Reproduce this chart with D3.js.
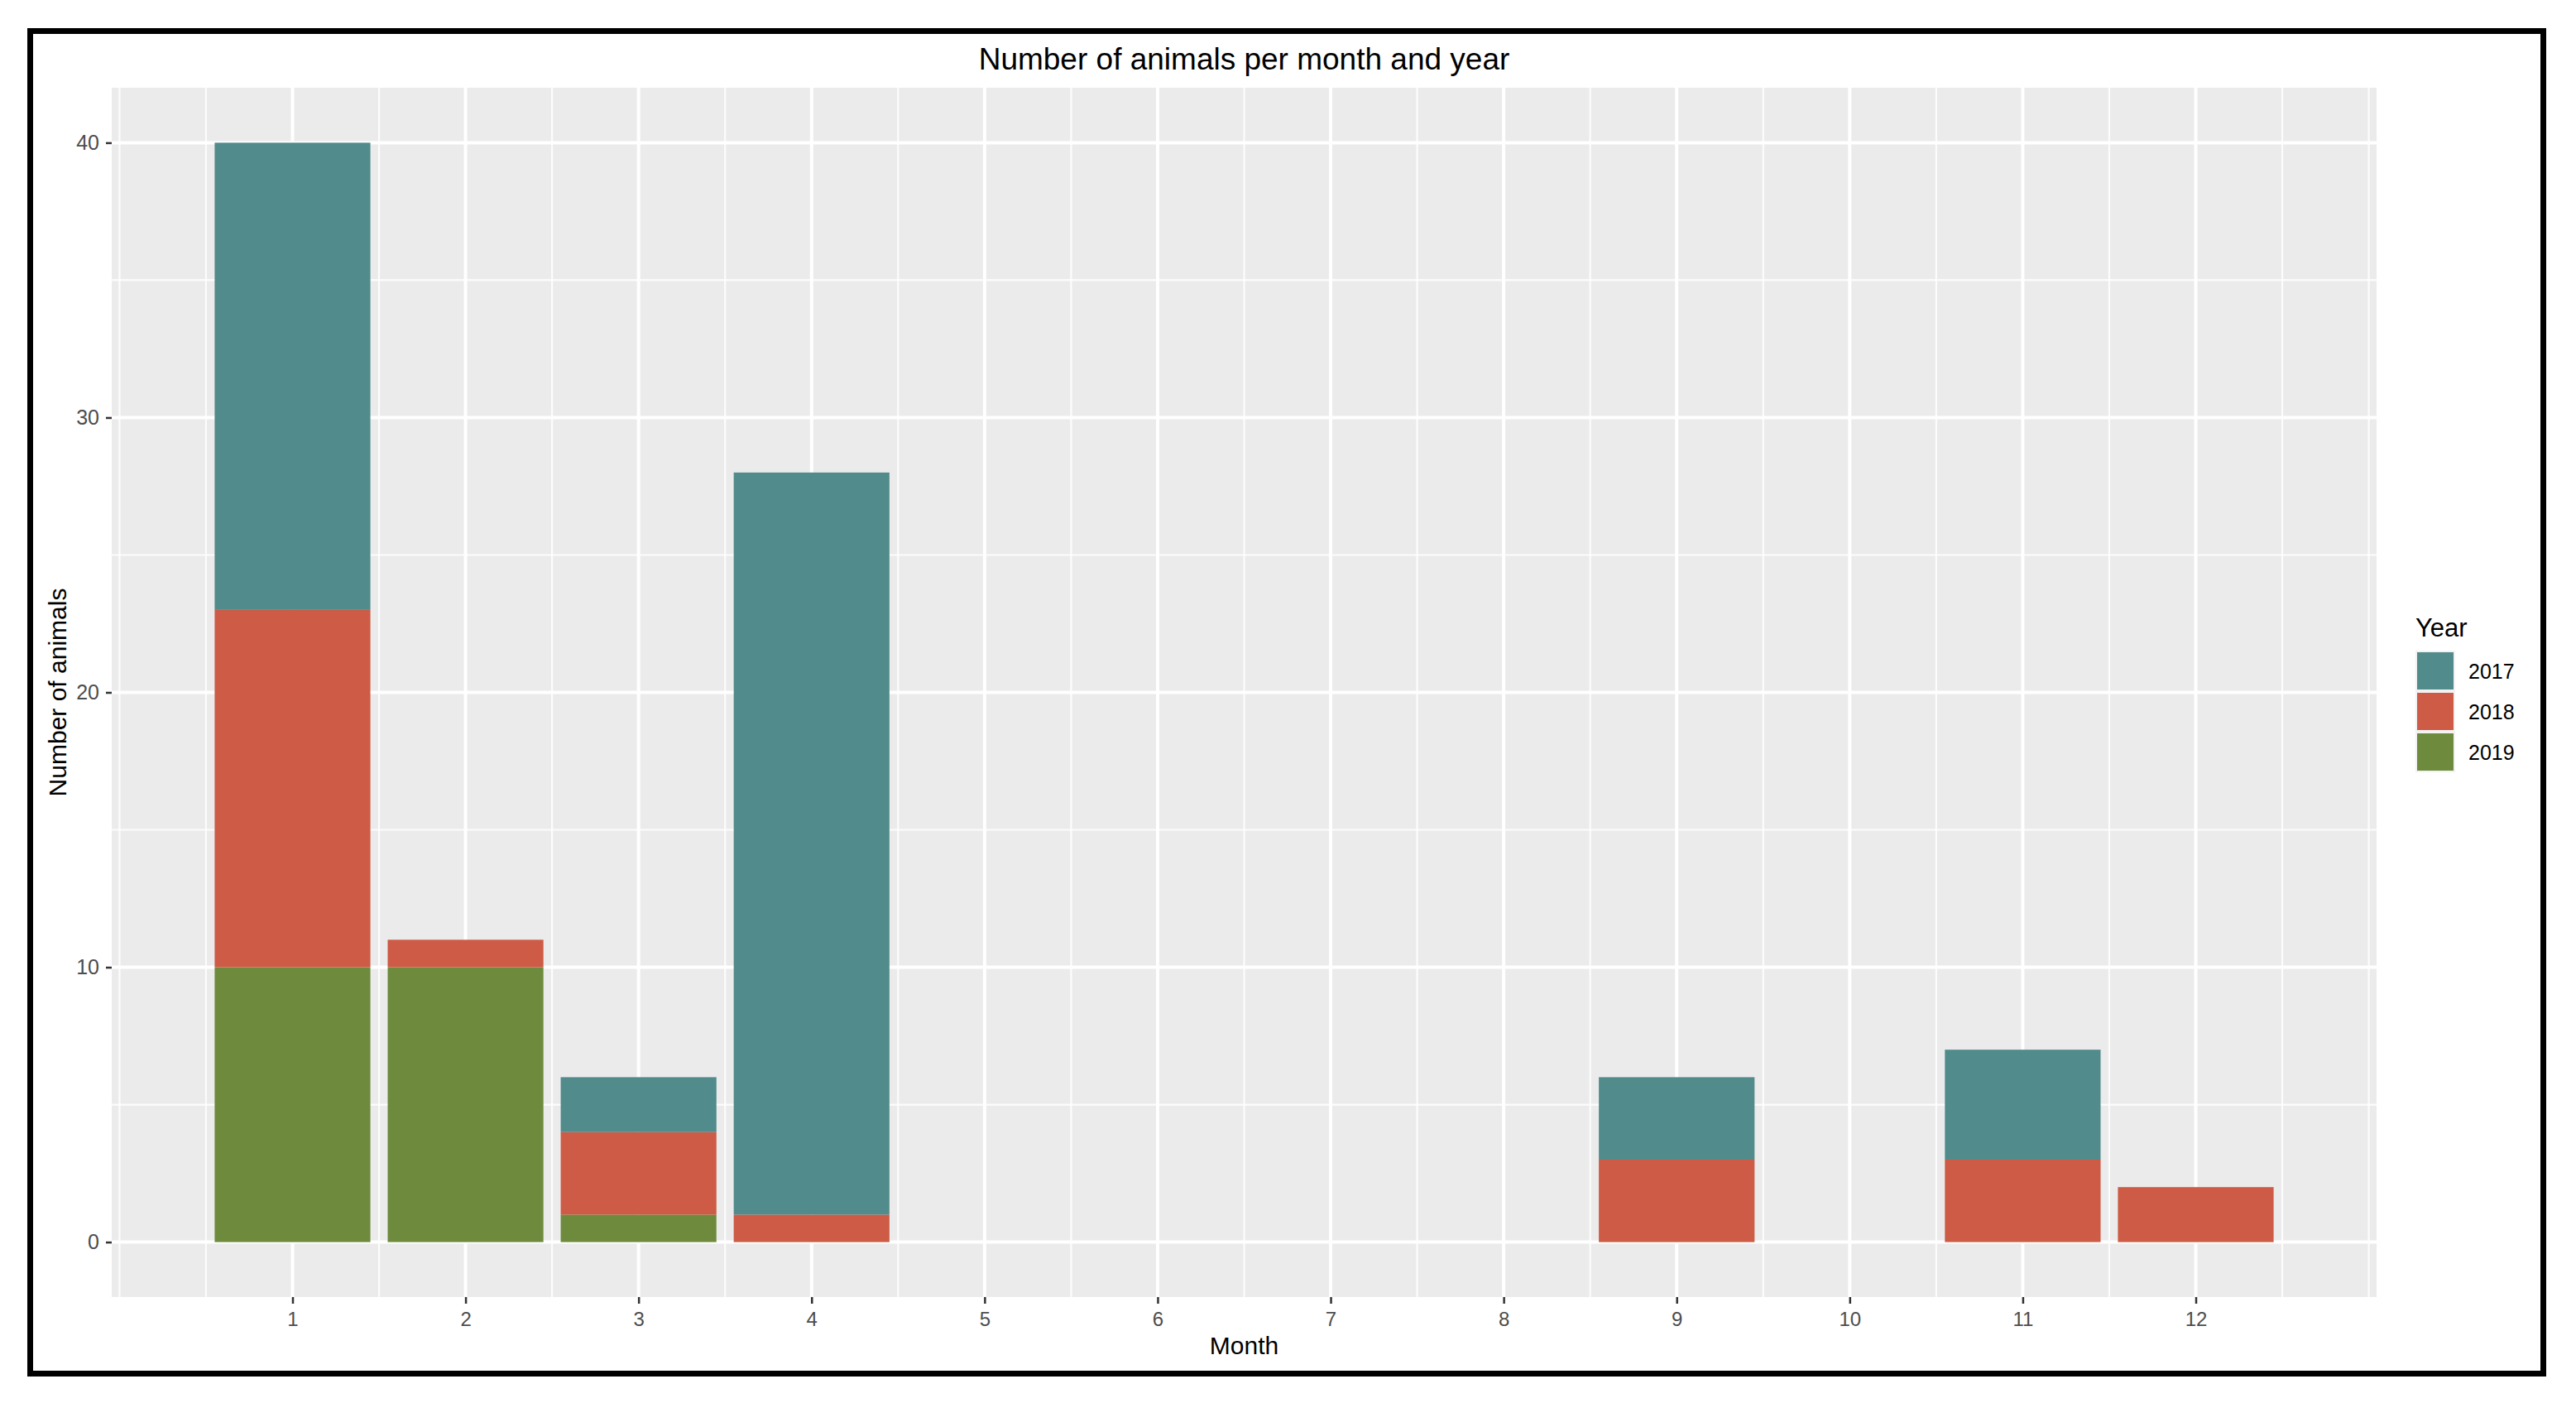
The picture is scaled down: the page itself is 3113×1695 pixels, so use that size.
<!DOCTYPE html>
<html>
<head>
<meta charset="utf-8">
<script src="https://cdn.jsdelivr.net/npm/d3@7"></script>
<style>
  html, body { margin: 0; padding: 0; background: #ffffff; }
  svg { display: block; }
  text { font-family: "Liberation Sans", Arial, sans-serif; }
</style>
</head>
<body>
<svg id="chart" width="3113" height="1695"></svg>
<script>
// ---- Data ----
const months = [1, 2, 3, 4, 5, 6, 7, 8, 9, 10, 11, 12];
const years = ["2017", "2018", "2019"];
const v2017 = [17, 0, 2, 27, 0, 0, 0, 0, 3, 0, 4, 0];
const v2018 = [13, 1, 3, 1, 0, 0, 0, 0, 3, 0, 3, 2];
const v2019 = [10, 10, 1, 0, 0, 0, 0, 0, 0, 0, 0, 0];
const yTicks = [0, 10, 20, 30, 40];
const yMinor = [5, 15, 25, 35];
const xMinor = [0, 0.5, 1.5, 2.5, 3.5, 4.5, 5.5, 6.5, 7.5, 8.5, 9.5, 10.5, 11.5, 12.5, 13];
const colors = { "2017": "#528B8B", "2018": "#CD5B45", "2019": "#6E8B3D" };
const titleText = "Number of animals per month and year";
const xTitle = "Month";
const yTitle = "Number of animals";
const legendTitle = "Year";

const rows = months.map((m, i) => ({ month: m, "2017": v2017[i], "2018": v2018[i], "2019": v2019[i] }));

// ---- Layout ----
const svg = d3.select("#chart");
const panel = { left: 135, right: 2872, top: 106, bottom: 1567 };

const x = d3.scaleLinear().domain([-0.045, 13.045]).range([panel.left, panel.right]);
const y = d3.scaleLinear().domain([-2, 42]).range([panel.bottom, panel.top]);
const barWidth = 0.9;

// outer frame
svg.append("rect")
  .attr("x", 36.5).attr("y", 37.5)
  .attr("width", 3037).attr("height", 1622)
  .attr("fill", "#ffffff").attr("stroke", "#000000").attr("stroke-width", 7);

// panel background
svg.append("rect")
  .attr("x", panel.left).attr("y", panel.top)
  .attr("width", panel.right - panel.left).attr("height", panel.bottom - panel.top)
  .attr("fill", "#EBEBEB");

const grid = svg.append("g");
// minor grid
grid.selectAll(".xminor").data(xMinor).join("line")
  .attr("x1", d => x(d)).attr("x2", d => x(d))
  .attr("y1", panel.top).attr("y2", panel.bottom)
  .attr("stroke", "#ffffff").attr("stroke-width", 2.2).attr("stroke-opacity", 0.85);
grid.selectAll(".yminor").data(yMinor).join("line")
  .attr("y1", d => y(d)).attr("y2", d => y(d))
  .attr("x1", panel.left).attr("x2", panel.right)
  .attr("stroke", "#ffffff").attr("stroke-width", 2.2).attr("stroke-opacity", 0.85);
// major grid
grid.selectAll(".xmajor").data(months).join("line")
  .attr("x1", d => x(d)).attr("x2", d => x(d))
  .attr("y1", panel.top).attr("y2", panel.bottom)
  .attr("stroke", "#ffffff").attr("stroke-width", 4);
grid.selectAll(".ymajor").data(yTicks).join("line")
  .attr("y1", d => y(d)).attr("y2", d => y(d))
  .attr("x1", panel.left).attr("x2", panel.right)
  .attr("stroke", "#ffffff").attr("stroke-width", 4);

// ---- Stacked bars ----
const stackKeys = ["2019", "2018", "2017"]; // bottom to top
const series = d3.stack().keys(stackKeys)(rows);
svg.append("g").selectAll("g").data(series).join("g")
  .attr("fill", s => colors[s.key])
  .selectAll("rect").data(s => s.filter(d => d[1] - d[0] > 0)).join("rect")
  .attr("x", d => x(d.data.month - barWidth / 2))
  .attr("width", d => x(d.data.month + barWidth / 2) - x(d.data.month - barWidth / 2))
  .attr("y", d => y(d[1]))
  .attr("height", d => y(d[0]) - y(d[1]));

// ---- Axes ----
const xAxis = d3.axisBottom(x).tickValues(months).tickSize(8).tickPadding(10).tickFormat(d3.format("d"));
const gx = svg.append("g").attr("transform", `translate(0,${panel.bottom})`).call(xAxis);
gx.select(".domain").remove();
gx.selectAll(".tick line").attr("stroke", "#333333").attr("stroke-width", 2.5);
gx.selectAll(".tick text").attr("fill", "#4D4D4D").style("font-size", "24px")
  .style("font-family", "'Liberation Sans', Arial, sans-serif");

const yAxis = d3.axisLeft(y).tickValues(yTicks).tickSize(7).tickPadding(8).tickFormat(d3.format("d"));
const gy = svg.append("g").attr("transform", `translate(${panel.left},0)`).call(yAxis);
gy.select(".domain").remove();
gy.selectAll(".tick line").attr("stroke", "#333333").attr("stroke-width", 2.5);
gy.selectAll(".tick text").attr("fill", "#4D4D4D").style("font-size", "25px")
  .style("font-family", "'Liberation Sans', Arial, sans-serif");

// ---- Titles ----
svg.append("text")
  .attr("x", (panel.left + panel.right) / 2).attr("y", 84)
  .attr("text-anchor", "middle").attr("fill", "#000000")
  .style("font-size", "37px").text(titleText);

svg.append("text")
  .attr("x", (panel.left + panel.right) / 2).attr("y", 1636)
  .attr("text-anchor", "middle").attr("fill", "#000000")
  .style("font-size", "30px").text(xTitle);

svg.append("text")
  .attr("transform", `translate(80,${(panel.top + panel.bottom) / 2}) rotate(-90)`)
  .attr("text-anchor", "middle").attr("fill", "#000000")
  .style("font-size", "30px").text(yTitle);

// ---- Legend ----
const legend = svg.append("g").attr("transform", "translate(2919,0)");
legend.append("text").attr("x", 0).attr("y", 769)
  .attr("fill", "#000000").style("font-size", "31px").text(legendTitle);
const keyY = d3.scaleBand().domain(years).range([786, 933]);
const items = legend.selectAll(".item").data(years).join("g")
  .attr("transform", d => `translate(0,${keyY(d)})`);
items.append("rect").attr("x", 0).attr("y", 0)
  .attr("width", 48).attr("height", keyY.bandwidth())
  .attr("fill", "#F2F2F2");
items.append("rect").attr("x", 2).attr("y", 2)
  .attr("width", 44).attr("height", keyY.bandwidth() - 4)
  .attr("fill", d => colors[d]);
items.append("text").attr("x", 64).attr("y", keyY.bandwidth() / 2 + 9)
  .attr("fill", "#000000").style("font-size", "25px").text(d => d);
</script>
</body>
</html>
